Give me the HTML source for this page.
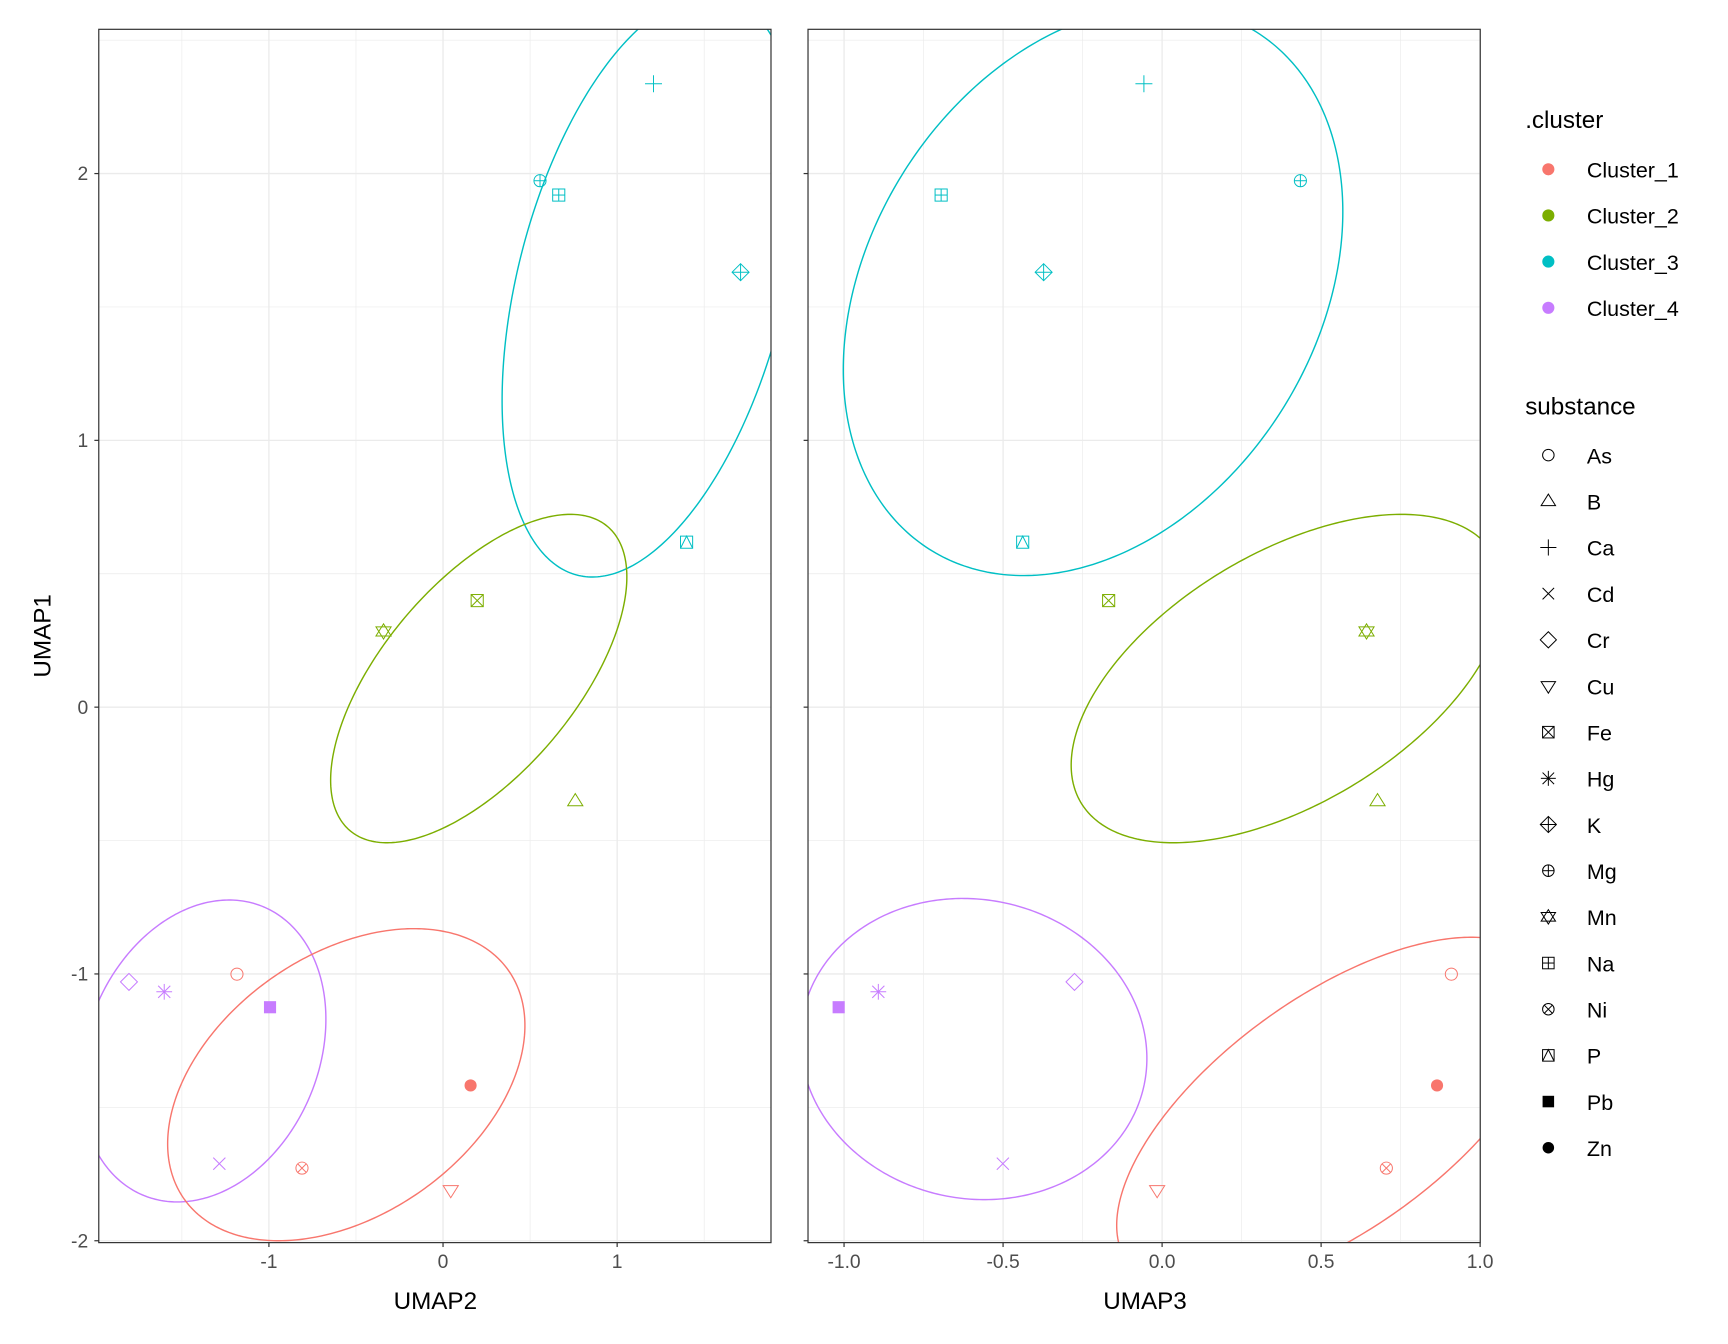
<!DOCTYPE html>
<html><head><meta charset="utf-8"><style>
html,body{margin:0;padding:0;background:#fff;}
svg{display:block;font-family:"Liberation Sans",Arial,sans-serif;}
</style></head><body>
<svg id="s" xmlns="http://www.w3.org/2000/svg" width="1728" height="1344" viewBox="0 0 1568 1219.6">
<defs>
<clipPath id="cl"><rect x="89.6" y="26.6" width="610" height="1101"/></clipPath>
<clipPath id="cr"><rect x="733.2" y="26.6" width="610" height="1101"/></clipPath>
</defs>
<rect width="1568" height="1220" fill="#fff"/>
<g id="grid"></g>
<g id="ell"></g>
<g id="pts"></g>
<rect x="89.6" y="26.6" width="610" height="1101" fill="none" stroke="#333" stroke-width="1.1"/>
<rect x="733.2" y="26.6" width="610" height="1101" fill="none" stroke="#333" stroke-width="1.1"/>
<g id="ticks"></g>
<g font-size="22" fill="#000">
<text x="395" y="1188" text-anchor="middle">UMAP2</text>
<text x="1039" y="1188" text-anchor="middle">UMAP3</text>
<text transform="translate(46,577) rotate(-90)" text-anchor="middle">UMAP1</text>
<text x="1384" y="116">.cluster</text>
<text x="1384" y="376">substance</text>
</g>
<g id="leg"></g>
</svg>
<script>
var NS="http://www.w3.org/2000/svg";
function el(p,t,a){var e=document.createElementNS(NS,t);for(var k in a)e.setAttribute(k,a[k]);p.appendChild(e);return e;}
var L={x0:89.6,x1:699.6,fx:function(u){return 402+158*u;}};
var R={x0:733.2,x1:1343.2,fx:function(u){return 1054.5+288.6*u;}};
function fy(v){return 641.7-242.1*v;}
var T=26.6,B=1127.6;
var g=document.getElementById('grid');
function grid(P,minor,major){
 minor.forEach(function(u){var x=P.fx(u);el(g,'line',{x1:x,x2:x,y1:T,y2:B,stroke:'#ebebeb','stroke-width':0.6});});
 [-1.5,-0.5,0.5,1.5,2.5].forEach(function(v){var y=fy(v);el(g,'line',{x1:P.x0,x2:P.x1,y1:y,y2:y,stroke:'#ebebeb','stroke-width':0.6});});
 major.forEach(function(u){var x=P.fx(u);el(g,'line',{x1:x,x2:x,y1:T,y2:B,stroke:'#ebebeb','stroke-width':1.2});});
 [-2,-1,0,1,2].forEach(function(v){var y=fy(v);el(g,'line',{x1:P.x0,x2:P.x1,y1:y,y2:y,stroke:'#ebebeb','stroke-width':1.2});});
}
grid(L,[-1.5,-0.5,0.5,1.5],[-1,0,1]);
grid(R,[-0.75,-0.25,0.25,0.75],[-1,-0.5,0,0.5,1]);
var tk=document.getElementById('ticks');
function tl(x,y,t,anc){var e=el(tk,'text',{x:x,y:y,'text-anchor':anc,'font-size':17.5,fill:'#4d4d4d'});e.textContent=t;}
[-2,-1,0,1,2].forEach(function(v){var y=fy(v);
 el(tk,'line',{x1:85.6,x2:89.6,y1:y,y2:y,stroke:'#333','stroke-width':1.1});
 el(tk,'line',{x1:729.2,x2:733.2,y1:y,y2:y,stroke:'#333','stroke-width':1.1});
 tl(80,y+6,String(v),'end');});
[[-1,'-1'],[0,'0'],[1,'1']].forEach(function(a){var x=L.fx(a[0]);el(tk,'line',{x1:x,x2:x,y1:B,y2:B+4,stroke:'#333','stroke-width':1.1});tl(x,B+23,a[1],'middle');});
[[-1,'-1.0'],[-0.5,'-0.5'],[0,'0.0'],[0.5,'0.5'],[1,'1.0']].forEach(function(a){var x=R.fx(a[0]);el(tk,'line',{x1:x,x2:x,y1:B,y2:B+4,stroke:'#333','stroke-width':1.1});tl(x,B+23,a[1],'middle');});
var C={1:'#F8766D',2:'#7CAE00',3:'#00BFC4',4:'#C77CFF'};
var eg=document.getElementById('ell');
function ell(clip,col,cx,cy,hx,hy,sxy){
 var l11=hx,l21=sxy/hx,l22=Math.sqrt(hy*hy-l21*l21),d='';
 for(var i=0;i<=360;i++){var t=i*Math.PI/180,c=Math.cos(t),s=Math.sin(t);
  var x=cx+l11*c,y=cy+l21*c+l22*s;d+=(i?'L':'M')+x.toFixed(2)+','+y.toFixed(2);}
 el(eg,'path',{d:d+'Z',fill:'none',stroke:col,'stroke-width':1.3,'clip-path':'url(#'+clip+')'});
}
ell('cl',C[3],590.7,259.4,135.1,264.2,-14063);
ell('cl',C[2],434.4,615.75,134.4,149,-12398);
ell('cl',C[4],184.4,953.7,111.3,137,-3206);
ell('cl',C[1],314.2,984.3,162.1,141.6,-8705);
ell('cr',C[3],991.85,263.8,226.65,258.5,-16251);
ell('cr',C[2],1168.2,615.75,196.2,149,-15407);
ell('cr',C[4],883.45,951.95,157.25,136.65,1332);
ell('cr',C[1],1210.2,1010.5,196.9,160,-19968);
var pg=document.getElementById('pts');
function shape(p,sh,x,y,col,sc){
 sc=sc||1;var r=5.5*sc,sw=0.9;var st={fill:'none',stroke:col,'stroke-width':sw};
 function A(o){var a={};for(var k in st)a[k]=st[k];for(var k in o)a[k]=o[k];return a;}
 function ln(a,b,c,d){el(p,'line',A({x1:a,y1:b,x2:c,y2:d}));}
 var tr=r*1.25;
 switch(sh){
 case 'As':el(p,'circle',A({cx:x,cy:y,r:r}));break;
 case 'B':el(p,'polygon',A({points:(x-tr)+','+(y+tr*0.6)+' '+(x+tr)+','+(y+tr*0.6)+' '+x+','+(y-tr*1.0)}));break;
 case 'Ca':ln(x-r*1.4,y,x+r*1.4,y);ln(x,y-r*1.4,x,y+r*1.4);break;
 case 'Cd':ln(x-r,y-r,x+r,y+r);ln(x-r,y+r,x+r,y-r);break;
 case 'Cr':el(p,'polygon',A({points:(x-r*1.4)+','+y+' '+x+','+(y-r*1.4)+' '+(x+r*1.4)+','+y+' '+x+','+(y+r*1.4)}));break;
 case 'Cu':el(p,'polygon',A({points:(x-tr)+','+(y-tr*0.6)+' '+(x+tr)+','+(y-tr*0.6)+' '+x+','+(y+tr*1.0)}));break;
 case 'Fe':el(p,'rect',A({x:x-r,y:y-r,width:2*r,height:2*r}));ln(x-r,y-r,x+r,y+r);ln(x-r,y+r,x+r,y-r);break;
 case 'Hg':ln(x-r*1.3,y,x+r*1.3,y);ln(x,y-r*1.3,x,y+r*1.3);ln(x-r,y-r,x+r,y+r);ln(x-r,y+r,x+r,y-r);break;
 case 'K':el(p,'polygon',A({points:(x-r*1.4)+','+y+' '+x+','+(y-r*1.4)+' '+(x+r*1.4)+','+y+' '+x+','+(y+r*1.4)}));ln(x-r*1.4,y,x+r*1.4,y);ln(x,y-r*1.4,x,y+r*1.4);break;
 case 'Mg':el(p,'circle',A({cx:x,cy:y,r:r}));ln(x-r,y,x+r,y);ln(x,y-r,x,y+r);break;
 case 'Mn':el(p,'polygon',A({points:(x-tr)+','+(y+tr*0.6)+' '+(x+tr)+','+(y+tr*0.6)+' '+x+','+(y-tr)}));el(p,'polygon',A({points:(x-tr)+','+(y-tr*0.6)+' '+(x+tr)+','+(y-tr*0.6)+' '+x+','+(y+tr)}));break;
 case 'Na':el(p,'rect',A({x:x-r,y:y-r,width:2*r,height:2*r}));ln(x-r,y,x+r,y);ln(x,y-r,x,y+r);break;
 case 'Ni':el(p,'circle',A({cx:x,cy:y,r:r}));ln(x-r*0.7,y-r*0.7,x+r*0.7,y+r*0.7);ln(x-r*0.7,y+r*0.7,x+r*0.7,y-r*0.7);break;
 case 'P':el(p,'rect',A({x:x-r,y:y-r,width:2*r,height:2*r}));el(p,'polyline',A({points:(x-r)+','+(y+r)+' '+x+','+(y-r)+' '+(x+r)+','+(y+r)}));break;
 case 'Pb':el(p,'rect',{x:x-r,y:y-r,width:2*r,height:2*r,fill:col});break;
 case 'Zn':el(p,'circle',{cx:x,cy:y,r:r,fill:col});break;
 }
}
var P=[
['Ca',3,593,76,1038,76],['Mg',3,490,164,1180,164],['Na',3,507,177,854,177],['K',3,672,247,947,247],
['P',3,623,492,928,492],['Fe',2,433,545,1006,545],['Mn',2,348,573,1240,573],['B',2,522,727,1250,727],
['As',1,215,884,1317,884],['Cr',4,117,891,975,891],['Hg',4,149,900,797,900],['Pb',4,245,914,761,914],
['Zn',1,427,985,1304,985],['Cd',4,199,1056,910,1056],['Ni',1,274,1060,1258,1060],['Cu',1,409,1080,1050,1080]];
P.forEach(function(q){shape(pg,q[0],q[2],q[3],C[q[1]]);shape(pg,q[0],q[4],q[5],C[q[1]]);});
var lg=document.getElementById('leg');
for(var i=1;i<=4;i++){var y=153.6+(i-1)*41.9;el(lg,'circle',{cx:1405,cy:y,r:5.5,fill:C[i]});
 var t=el(lg,'text',{x:1440,y:y+7.5,'font-size':19.5,fill:'#000'});t.textContent='Cluster_'+i;}
var subs=['As','B','Ca','Cd','Cr','Cu','Fe','Hg','K','Mg','Mn','Na','Ni','P','Pb','Zn'];
subs.forEach(function(s,i){var y=413+i*41.9;shape(lg,s,1405,y,'#000',0.95);
 var t=el(lg,'text',{x:1440,y:y+7.5,'font-size':19.5,fill:'#000'});t.textContent=s;});
</script>
</body></html>
